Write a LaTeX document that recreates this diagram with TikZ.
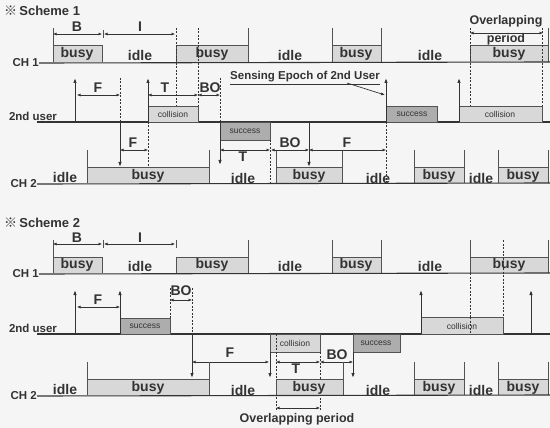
\documentclass[tikz,border=0pt]{standalone}
\usepackage{fontspec}
\setmainfont{Liberation Sans}
\newfontfamily\cjkf{Noto Sans CJK SC}
\usetikzlibrary{arrows.meta}
\definecolor{bg}{HTML}{F5F5F5}
\definecolor{dk}{HTML}{333333}
\definecolor{lg}{HTML}{D8D8D8}
\definecolor{mg}{HTML}{ADADAD}
\tikzset{
 baseln/.style={draw=dk, line width=1.1pt},
 tk/.style={draw=dk!85, line width=1pt},
 edge/.style={draw=dk!85, line width=0.9pt},
 dsh/.style={draw=dk, line width=0.7pt, dash pattern=on 2pt off 1.5pt},
 dim/.style={draw=dk, line width=0.6pt, {Latex[length=3.5pt,width=3pt]}-{Latex[length=3.5pt,width=3pt]}},
 uparr/.style={draw=dk, line width=1pt, -{Latex[length=5pt,width=3.5pt]}},
 big/.style={font=\bfseries\fontsize{14}{14}\selectfont, text=dk, inner sep=0pt},
 chl/.style={font=\bfseries\fontsize{11.5}{12}\selectfont, text=dk, inner sep=0pt},
 sml/.style={font=\fontsize{8.5}{9}\selectfont, text=dk, inner sep=0pt},
 ovl/.style={font=\bfseries\fontsize{12.5}{13}\selectfont, text=dk, inner sep=0pt},
 ttl/.style={font=\bfseries\fontsize{13}{13}\selectfont, text=dk, inner sep=0pt, anchor=west},
}
\newcommand\chbox[4]{\fill[lg] (#1,#3) rectangle (#2,#4); \draw[edge] (#1,#4) -- (#1,#3) -- (#2,#3) -- (#2,#4);}
\newcommand\usrbox[5]{\fill[#5] (#1,#3) rectangle (#2,#4); \draw[edge] (#1,#3) rectangle (#2,#4);}
\begin{document}
\begin{tikzpicture}[x=1pt,y=-1pt]
\fill[bg] (0,0) rectangle (550,428);
\useasboundingbox (0,0) rectangle (550,428);

% ================= Scheme 1 =================
\node[ttl] (t1) at (4,11) {{\cjkf\fontsize{13}{13}\selectfont ※}\,Scheme 1};

% CH1 boxes
\chbox{53}{102}{45}{62}
\chbox{176}{248}{45}{62}
\chbox{332}{381}{45}{62}
\chbox{470}{548}{45}{62}
\foreach \x in {53,248,332,381,548} \draw[tk] (\x,28) -- (\x,62);
\draw[tk] (103,30) -- (103,38);
\node[chl, anchor=east] (ch1a) at (39,63) {CH 1};
\draw[baseln] (ch1a.east) -- (550,62);
\node[big] (b1) at (77,27) {B};
\node[big] (i1) at (140,27) {I};
\draw[dim] (53,34) -- (102,34);
\draw[dim] (104,34) -- (175,34);
\node[big] (c1a) at (77,54) {busy};
\node[big] (c1b) at (140,55) {idle};
\node[big] (c1c) at (212,54) {busy};
\node[big] (c1d) at (290,55) {idle};
\node[big] (c1e) at (356,54) {busy};
\node[big] (c1f) at (430,55) {idle};
\node[big] (c1g) at (509,54) {busy};
\node[ovl] (ov1) at (506,21) {Overlapping};
\node[ovl] (ov2) at (506,39) {period};
\draw[dim] (470,33) -- (543,33);

% dashed verticals from CH1
\draw[dsh] (176,28) -- (176,122);
\draw[dsh] (198,28) -- (198,106);
\draw[dsh] (470,28) -- (470,122);
\draw[dsh] (542,28) -- (542,106);

% 2nd user
\node[chl] (u1) at (33,116) {2nd user};
\draw[baseln] (37,122) -- (550,122);
\usrbox{148}{198}{106}{122}{lg}
\usrbox{220}{270}{122}{140}{mg}
\usrbox{386}{437}{106}{122}{mg}
\usrbox{459}{542}{106}{122}{lg}
\node[sml] (s1a) at (173,114) {collision};
\node[sml] (s1b) at (245,131) {success};
\node[sml] (s1c) at (412,114) {success};
\node[sml] (s1d) at (500,114) {collision};
\draw[uparr] (75,122) -- (75,78);
\draw[uparr] (148,122) -- (148,78);
\draw[uparr] (386,122) -- (386,78);
\draw[uparr] (459,122) -- (459,78);
\draw[dsh] (120,78) -- (120,122);
\draw[uparr] (120,122) -- (120,167);
\draw[dsh] (148,122) -- (148,167);
\draw[dsh] (220,78) -- (220,122);
\draw[uparr] (220,122) -- (220,165);
\draw[dsh] (270,140) -- (270,183);
\draw[uparr] (309,122) -- (309,167);
\draw[dsh] (386,122) -- (386,183);
\draw[dim] (77,95) -- (120,95);
\draw[dim] (148,95) -- (198,95);
\draw[dim] (198,95) -- (220,95);
\node[big] (f1) at (98,88) {F};
\node[big] (tt1) at (165,88) {T};
\node[big] (bo1) at (210,88) {BO};
\node[font=\bfseries\fontsize{11.5}{12}\selectfont, text=dk, inner sep=0pt] (se) at (305,77) {Sensing Epoch of 2nd User};
\draw[draw=dk, line width=0.6pt] ([yshift=-2pt]se.south west) -- ([yshift=-2pt]se.south east);
\draw[draw=dk, line width=0.7pt, -{Latex[length=4pt,width=3pt]}] (347,83) -- (385,95);

% CH2 scheme 1
\chbox{87}{209}{167}{183}
\chbox{276}{342}{167}{183}
\chbox{414}{464}{167}{183}
\chbox{498}{548}{167}{183}
\foreach \x in {87,209,276,342,414,464,498,548} \draw[tk] (\x,150) -- (\x,183);
\node[chl, anchor=east] (ch2a) at (37,184) {CH 2};
\draw[baseln] (ch2a.east) -- (550,183);
\draw[dim] (120,150) -- (148,150);
\draw[dim] (220,150) -- (270,150);
\draw[dim] (271,150) -- (309,150);
\draw[dim] (309,150) -- (386,150);
\node[big] (f2) at (133,143) {F};
\node[big] (tt2) at (243,157) {T};
\node[big] (bo2) at (290,143) {BO};
\node[big] (f3) at (347,143) {F};
\node[big] (c2a) at (65,177) {idle};
\node[big] (c2b) at (148,176) {busy};
\node[big] (c2c) at (243,178) {idle};
\node[big] (c2d) at (309,176) {busy};
\node[big] (c2e) at (378,178) {idle};
\node[big] (c2f) at (439,176) {busy};
\node[big] (c2g) at (481,178) {idle};
\node[big] (c2h) at (523,176) {busy};

% ================= Scheme 2 =================
\node[ttl] (t2) at (4,223) {{\cjkf\fontsize{13}{13}\selectfont ※}\,Scheme 2};
\chbox{53}{102}{257}{273}
\chbox{176}{248}{257}{273}
\chbox{332}{381}{257}{273}
\chbox{470}{548}{257}{273}
\foreach \x in {53,248,332,381,470,548} \draw[tk] (\x,240) -- (\x,273);
\draw[tk] (103,240) -- (103,248);
\draw[tk] (176,240) -- (176,248);
\node[chl, anchor=east] (ch1b) at (39,274) {CH 1};
\draw[baseln] (ch1b.east) -- (550,273);
\node[big] (b2) at (77,238) {B};
\node[big] (i2) at (140,238) {I};
\draw[dim] (53,244) -- (102,244);
\draw[dim] (104,244) -- (175,244);
\node[big] (d1a) at (77,265) {busy};
\node[big] (d1b) at (140,266) {idle};
\node[big] (d1c) at (212,265) {busy};
\node[big] (d1d) at (290,266) {idle};
\node[big] (d1e) at (356,265) {busy};
\node[big] (d1f) at (430,266) {idle};
\node[big] (d1g) at (509,265) {busy};
\draw[dsh] (470,273) -- (470,334);
\draw[dsh] (503,240) -- (503,317);

% 2nd user scheme 2
\node[chl] (u2) at (33,328) {2nd user};
\draw[baseln] (37,334) -- (550,334);
\usrbox{120}{170}{318}{334}{mg}
\usrbox{421}{503}{317}{334}{lg}
\usrbox{270}{320}{334}{352}{lg}
\usrbox{353}{400}{334}{352}{mg}
\node[sml] (s2a) at (145,326) {success};
\node[sml] (s2b) at (462,326) {collision};
\node[sml] (s2c) at (295,343) {collision};
\node[sml] (s2d) at (376,343) {success};
\draw[dsh] (470,317) -- (470,334);
\draw[uparr] (75,334) -- (75,290);
\draw[uparr] (120,334) -- (120,290);
\draw[uparr] (421,334) -- (421,290);
\draw[uparr] (531,334) -- (531,290);
\draw[dsh] (170,288) -- (170,318);
\draw[dsh] (192,288) -- (192,334);
\draw[uparr] (192,334) -- (192,378);
\draw[uparr] (270,352) -- (270,378);
\draw[uparr] (353,352) -- (353,378);
\draw[dsh] (276,334) -- (276,410);
\draw[dsh] (320,352) -- (320,410);
\draw[dim] (77,307) -- (120,307);
\draw[dim] (170,300) -- (192,300);
\node[big] (f4) at (98,300) {F};
\node[big] (bo3) at (181,291) {BO};
\draw[dim] (192,362) -- (269,362);
\draw[dim] (276,362) -- (320,362);
\draw[dim] (320,362) -- (353,362);
\node[big] (f5) at (230,353) {F};
\node[big] (tt3) at (296,369) {T};
\node[big] (bo4) at (337,355) {BO};

% CH2 scheme 2
\chbox{87}{209}{379}{395}
\chbox{276}{343}{379}{395}
\chbox{414}{464}{379}{395}
\chbox{498}{548}{379}{395}
\foreach \x in {87,209,343,414,464,498,548} \draw[tk] (\x,362) -- (\x,395);
\node[chl, anchor=east] (ch2b) at (37,396) {CH 2};
\draw[baseln] (ch2b.east) -- (550,395);
\node[big] (d2a) at (65,389) {idle};
\node[big] (d2b) at (148,388) {busy};
\node[big] (d2c) at (243,390) {idle};
\node[big] (d2d) at (309,388) {busy};
\node[big] (d2e) at (378,390) {idle};
\node[big] (d2f) at (439,388) {busy};
\node[big] (d2g) at (481,390) {idle};
\node[big] (d2h) at (523,388) {busy};
\draw[dim] (276,408) -- (320,408);
\node[ovl] (ov3) at (297,419) {Overlapping period};
\end{tikzpicture}
\end{document}
